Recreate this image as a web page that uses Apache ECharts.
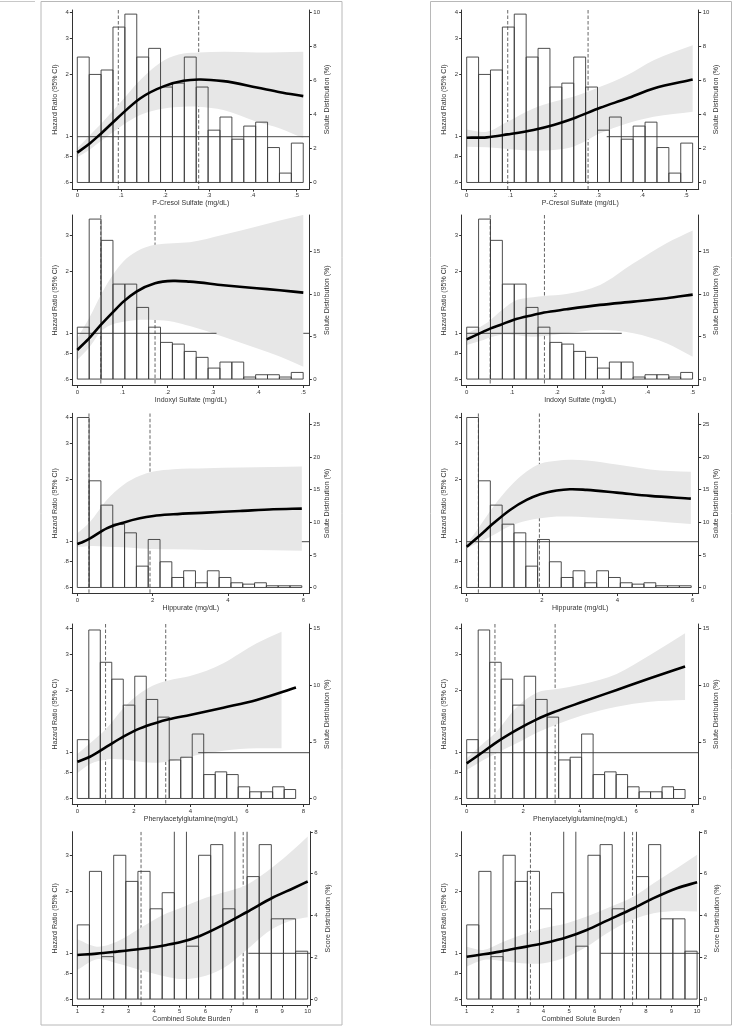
<!DOCTYPE html>
<html><head><meta charset="utf-8">
<script src="https://cdn.jsdelivr.net/npm/echarts@6/dist/echarts.min.js"></script>
<style>html,body{margin:0;padding:0;background:#fff}#c{width:733px;height:1028px}</style>
</head><body><div id="c"></div>
<script>
// ---------------- DATA ----------------
// Histograms (percent per bin), shared by both columns
const pcsBinStart = 0,  pcsBinWidth = 0.0271;
const pcsPct = [7.36,6.34,6.6,9.12,9.88,7.36,7.87,5.6,5.83,7.36,5.6,3.07,3.84,2.54,3.31,3.54,2.05,0.55,2.31];
const isBinStart = 0,   isBinWidth = 0.0263;
const isPct  = [6.1,18.8,16.3,11.16,11.16,8.42,6.1,4.31,4.11,3.25,2.55,1.29,2.0,2.0,0.24,0.51,0.51,0.24,0.78];
const hipBinStart = 0,  hipBinWidth = 0.3137;
const hipPct = [26.07,16.36,12.63,9.71,8.38,3.27,7.36,3.94,1.53,2.56,0.72,2.56,1.53,0.72,0.51,0.72,0.26,0.26,0.26];
const pagBinStart = 0,  pagBinWidth = 0.4068;
const pagPct = [5.19,14.87,12.02,10.53,8.24,10.79,8.74,7.18,3.40,3.64,5.69,2.11,2.35,2.11,1.03,0.59,0.59,1.03,0.79];
const csbBinStart = 1,  csbBinWidth = 0.4737;
const csbPct = [3.55,6.11,2.03,6.88,5.63,6.11,4.32,5.09,8.2,2.53,6.88,7.39,4.32,8.2,5.86,7.39,3.84,3.84,2.29];

// Dashed cut-points
const pcsCuts = [0.0935, 0.2766];
const isCuts  = [0.052, 0.172];
const hipCuts = [0.31, 1.93];
const pagCuts = [1.0, 3.13];
const csbCuts = [3.49, 7.48];

// Tick labels
const hrTicks     = [0.6, 0.8, 1, 2, 3, 4];
const pcsTicks    = [0, 0.1, 0.2, 0.3, 0.4, 0.5];
const isTicks     = [0, 0.1, 0.2, 0.3, 0.4, 0.5];
const hipTicks    = [0, 2, 4, 6];
const pagTicks    = [0, 2, 4, 6, 8];
const csbTicks    = [1, 2, 3, 4, 5, 6, 7, 8, 9, 10];
const pcsPctTicks = [0, 2, 4, 6, 8, 10];
const isPctTicks  = [0, 5, 10, 15];
const hipPctTicks = [0, 5, 10, 15, 20, 25];
const pagPctTicks = [0, 5, 10, 15];
const csbPctTicks = [0, 2, 4, 6, 8];

// Model 1 (left column) spline HR and 95% CI
const m1PcsX  = [0,.029,.055,.093,.143,.198,.242,.277,.333,.409,.462,.515];
const m1PcsHR = [.837,.93,1.04,1.24,1.532,1.758,1.866,1.893,1.859,1.733,1.644,1.573];
const m1PcsLo = [.794,.868,.955,1.097,1.273,1.371,1.397,1.397,1.346,1.182,1.097,.982];
const m1PcsHi = [.878,1.019,1.16,1.423,1.88,2.35,2.53,2.56,2.58,2.56,2.57,2.58];

const m1IsX  = [0,.028,.052,.08,.102,.131,.172,.212,.249,.323,.397,.448,.5];
const m1IsHR = [.83,.956,1.098,1.274,1.424,1.593,1.749,1.795,1.781,1.710,1.653,1.617,1.575];
const m1IsLo = [.742,.862,1.019,1.11,1.139,1.16,1.16,1.139,1.085,.963,.846,.771,.689];
const m1IsHi = [.946,1.205,1.535,1.941,2.228,2.49,2.684,2.735,2.765,3.0,3.29,3.52,3.75];

const m1HipX  = [0,.16,.34,.78,1.22,1.66,2.02,2.55,3.43,4.32,5.2,5.96];
const m1HipHR = [.974,1.0,1.038,1.161,1.237,1.298,1.332,1.358,1.383,1.409,1.436,1.447];
const m1HipLo = [.946,.946,.953,.946,.939,.928,.921,.918,.911,.911,.908,.904];
const m1HipHi = [1.098,1.161,1.251,1.594,1.885,2.085,2.188,2.247,2.273,2.288,2.305,2.314];

const m1PagX  = [0,.45,1.04,1.63,2.22,2.81,3.24,3.99,5.17,6.35,7.74];
const m1PagHR = [.904,.956,1.069,1.196,1.312,1.398,1.451,1.523,1.653,1.801,2.068];
const m1PagBX = [0,.45,1.04,1.63,2.22,2.81,3.40,3.99,4.58,5.17,5.76,6.35,7.23];
const m1PagLo = [.794,.881,.928,.928,.904,.894,.915,.956,.993,1.022,1.042,1.05,1.05];
const m1PagHi = [.985,1.11,1.312,1.641,1.941,2.152,2.27,2.357,2.499,2.713,3.036,3.393,3.86];

const m1CsbX  = [1,1.76,2.54,3.45,4.49,5.01,5.79,6.70,7.61,8.66,9.44,10];
const m1CsbHR = [.982,.996,1.019,1.05,1.098,1.131,1.214,1.373,1.581,1.869,2.068,2.228];
const m1CsbLo = [.83,.935,.894,.83,.77,.751,.765,.846,1.038,1.322,1.451,1.495];
const m1CsbHi = [1.169,1.077,1.139,1.322,1.564,1.654,1.815,1.971,2.145,2.632,3.174,3.68];

// Model 2 (right column)
const m2PcsX  = [0,.046,.093,.152,.198,.243,.304,.365,.426,.515];
const m2PcsHR = [.989,.993,1.026,1.077,1.139,1.226,1.381,1.532,1.713,1.893];
const m2PcsLo = [.895,.888,.872,.856,.862,.895,1.038,1.16,1.249,1.321];
const m2PcsHi = [1.085,1.057,1.182,1.371,1.477,1.561,1.745,1.987,2.35,2.777];

const m2IsX  = [0,.037,.053,.074,.103,.147,.171,.221,.295,.369,.442,.5];
const m2IsHR = [.935,1.019,1.057,1.098,1.161,1.227,1.26,1.307,1.373,1.424,1.479,1.54];
const m2IsLo = [.878,.928,.956,.982,.982,.963,.971,1.0,1.038,1.0,.894,.77];
const m2IsHi = [1.0,1.098,1.161,1.274,1.424,1.495,1.517,1.552,1.716,2.185,2.735,3.15];

const m2HipX  = [0,.31,.71,1.15,1.59,1.95,2.39,2.74,3.19,3.98,4.87,5.95];
const m2HipHR = [.946,1.057,1.228,1.425,1.594,1.698,1.77,1.796,1.783,1.73,1.667,1.618];
const m2HipLo = [.928,.989,1.077,1.191,1.265,1.298,1.323,1.323,1.313,1.293,1.265,1.218];
const m2HipHi = [.974,1.161,1.48,1.85,2.19,2.39,2.47,2.495,2.477,2.365,2.24,2.18];

const m2PagX  = [0,.59,1.0,1.77,2.48,3.13,4.13,5.31,6.49,7.73];
const m2PagHR = [.888,1.011,1.11,1.29,1.451,1.581,1.769,2.015,2.296,2.615];
const m2PagLo = [.824,.921,.985,1.11,1.25,1.362,1.523,1.672,1.768,1.802];
const m2PagHi = [.939,1.11,1.241,1.66,1.955,2.028,2.154,2.41,2.977,3.79];

const m2CsbX  = [1,1.65,2.30,2.96,4.0,4.91,5.69,6.48,7.52,8.30,9.21,10];
const m2CsbHR = [.963,.989,1.019,1.057,1.118,1.196,1.298,1.441,1.653,1.85,2.068,2.21];
const m2CsbLo = [.862,.928,.921,.901,.894,.963,1.077,1.25,1.462,1.564,1.605,1.593];
const m2CsbHi = [1.077,1.038,1.118,1.205,1.322,1.398,1.506,1.653,1.884,2.186,2.586,3.0];

// Visible stretches of the HR = 1 reference line (null = to right edge)
const m1RefSegs = [[[0,null]], [[0,.308],[.5,null]], [[5.96,null]], [[4.28,null]], [[7.68,null]]];
const m2RefSegs = [[[.319,null]], [[0,.343]], [[0,null]], [[0,null]], [[6.22,null]]];

// ---------------- LAYOUT ----------------
const PXLN = 89.6;          // px per ln(HR) unit
const COL_SHIFT = 389.4;
const GRID_L = 72.3;
const ROWS = [
  {top:10,    hr1:136.7, pct:17.04, bottom:189.1, x0:77.3, ppu:438.8, right:309.3},
  {top:215,   hr1:333.3, pct:8.51,  bottom:385.5, x0:77.3, ppu:452,   right:309.3},
  {top:413.3, hr1:541.7, pct:6.52,  bottom:593.5, x0:77.3, ppu:37.67, right:309.3},
  {top:624,   hr1:752.7, pct:11.33, bottom:804.5, x0:77.3, ppu:28.25, right:309.3},
  {top:831.7, hr1:953.3, pct:20.9,  bottom:1005,  x0:77.3, ppu:25.6,  right:310.3}
];

const solutes = [
  {name:'P-Cresol Sulfate (mg/dL)', dist:'Solute Distribution (%)', start:pcsBinStart, w:pcsBinWidth, pct:pcsPct, cuts:pcsCuts, xt:pcsTicks, pt:pcsPctTicks},
  {name:'Indoxyl Sulfate (mg/dL)', dist:'Solute Distribution (%)', start:isBinStart, w:isBinWidth, pct:isPct, cuts:isCuts, xt:isTicks, pt:isPctTicks},
  {name:'Hippurate (mg/dL)', dist:'Solute Distribution (%)', start:hipBinStart, w:hipBinWidth, pct:hipPct, cuts:hipCuts, xt:hipTicks, pt:hipPctTicks},
  {name:'Phenylacetylglutamine(mg/dL)', dist:'Solute Distribution (%)', start:pagBinStart, w:pagBinWidth, pct:pagPct, cuts:pagCuts, xt:pagTicks, pt:pagPctTicks},
  {name:'Combined Solute Burden', dist:'Score Distribution (%)', start:csbBinStart, w:csbBinWidth, pct:csbPct, cuts:csbCuts, xt:csbTicks, pt:csbPctTicks}
];
const models = [
  [
    {x:m1PcsX, hr:m1PcsHR, bx:m1PcsX, lo:m1PcsLo, hi:m1PcsHi},
    {x:m1IsX,  hr:m1IsHR,  bx:m1IsX,  lo:m1IsLo,  hi:m1IsHi},
    {x:m1HipX, hr:m1HipHR, bx:m1HipX, lo:m1HipLo, hi:m1HipHi},
    {x:m1PagX, hr:m1PagHR, bx:m1PagBX, lo:m1PagLo, hi:m1PagHi},
    {x:m1CsbX, hr:m1CsbHR, bx:m1CsbX, lo:m1CsbLo, hi:m1CsbHi}
  ],
  [
    {x:m2PcsX, hr:m2PcsHR, bx:m2PcsX, lo:m2PcsLo, hi:m2PcsHi},
    {x:m2IsX,  hr:m2IsHR,  bx:m2IsX,  lo:m2IsLo,  hi:m2IsHi},
    {x:m2HipX, hr:m2HipHR, bx:m2HipX, lo:m2HipLo, hi:m2HipHi},
    {x:m2PagX, hr:m2PagHR, bx:m2PagX, lo:m2PagLo, hi:m2PagHi},
    {x:m2CsbX, hr:m2CsbHR, bx:m2CsbX, lo:m2CsbLo, hi:m2CsbHi}
  ]
];
const refSegs = [m1RefSegs, m2RefSegs];

// ---------------- HELPERS ----------------
const TXT = '#333', AX = '#333';
const fmtDec = v => { const r = Math.round(v*1000)/1000; return r === 0 ? '0' : String(r).replace(/^0\./, '.'); };
const fmtHR = v => { const h = Math.round(Math.exp(v)*100)/100; return String(h).replace(/^0\./, '.'); };
const P = p => p[0].toFixed(2) + ',' + p[1].toFixed(2);
// cubic Hermite through pixel points (x monotone), 3-point derivative
function herm(p) {
  const n = p.length, h = [], d = [], s = [];
  for (let i = 0; i < n - 1; i++) { h[i] = p[i+1][0] - p[i][0]; d[i] = (p[i+1][1] - p[i][1]) / h[i]; }
  s[0] = d[0]; s[n-1] = d[n-2];
  for (let i = 1; i < n - 1; i++) s[i] = (d[i-1]*h[i] + d[i]*h[i-1]) / (h[i-1] + h[i]);
  let out = '';
  for (let i = 0; i < n - 1; i++) {
    const c1 = [p[i][0] + h[i]/3, p[i][1] + s[i]*h[i]/3];
    const c2 = [p[i+1][0] - h[i]/3, p[i+1][1] - s[i+1]*h[i]/3];
    out += ' C' + P(c1) + ' ' + P(c2) + ' ' + P(p[i+1]);
  }
  return out;
}

const grids = [], xAxes = [], yAxes = [], series = [];
for (let col = 0; col < 2; col++) {
  for (let r = 0; r < 5; r++) {
    const g = grids.length, L = ROWS[r], S = solutes[r], M = models[col][r];
    const dx = col * COL_SHIFT;
    const base = L.hr1 - PXLN * Math.log(0.6);
    const xMin = S.start - (L.x0 - GRID_L) / L.ppu;
    const xMax = S.start + (L.right - L.x0) / L.ppu;
    grids.push({left: GRID_L + dx, top: L.top, width: L.right - GRID_L, height: L.bottom - L.top,
                containLabel: false, outerBoundsMode: 'none'});
    xAxes.push({gridIndex: g, type: 'value', min: xMin, max: xMax,
      name: S.name, nameLocation: 'middle', nameGap: 10.8, nameMoveOverlap: false,
      nameTextStyle: {fontSize: 7, color: TXT},
      axisLine: {onZero: false, lineStyle: {color: AX, width: 1}},
      axisTick: {customValues: S.xt, length: 2.5, lineStyle: {color: AX}},
      axisLabel: {customValues: S.xt, fontSize: 6, color: TXT, margin: 3.5, formatter: fmtDec},
      splitLine: {show: false}});
    const lnT = hrTicks.map(Math.log);
    yAxes.push({gridIndex: g, type: 'value', position: 'left',
      min: -(L.bottom - L.hr1) / PXLN, max: (L.hr1 - L.top) / PXLN,
      name: 'Hazard Ratio (95% CI)', nameLocation: 'middle', nameRotate: 90, nameGap: 13.8, nameMoveOverlap: false,
      nameTextStyle: {fontSize: 7, color: TXT},
      axisLine: {show: true, onZero: false, lineStyle: {color: AX, width: 1}},
      axisTick: {show: true, customValues: lnT, length: 2.5, lineStyle: {color: AX}},
      axisLabel: {customValues: lnT, fontSize: 6, color: TXT, margin: 3.5, formatter: fmtHR},
      splitLine: {show: false}});
    yAxes.push({gridIndex: g, type: 'value', position: 'right',
      min: -(L.bottom - base) / L.pct, max: (base - L.top) / L.pct,
      name: S.dist, nameLocation: 'middle', nameRotate: 90, nameGap: 13.9, nameMoveOverlap: false,
      nameTextStyle: {fontSize: 7, color: TXT},
      axisLine: {show: true, onZero: false, lineStyle: {color: AX, width: 1}},
      axisTick: {show: true, customValues: S.pt, length: 2.5, lineStyle: {color: AX}},
      axisLabel: {customValues: S.pt, fontSize: 6, color: TXT, margin: 4, formatter: v => String(v)},
      splitLine: {show: false}});

    const yl = 2*g, yr = 2*g + 1;
    // dashed cut lines
    series.push({type: 'custom', xAxisIndex: g, yAxisIndex: yl, z: 1, silent: true, clip: true,
      data: S.cuts.map(c => [c, 0]), encode: {x: 0, y: 1},
      renderItem: (params, api) => {
        const x = api.coord([api.value(0), 0])[0];
        const cs = params.coordSys;
        return {type: 'line', shape: {x1: x, y1: cs.y, x2: x, y2: cs.y + cs.height},
                style: {stroke: '#555', lineWidth: 0.9, lineDash: [3.5, 2]}};
      }});
    // CI band
    series.push({type: 'custom', xAxisIndex: g, yAxisIndex: yl, z: 2, silent: true, clip: true,
      data: [[M.bx[0], 0]], encode: {x: 0, y: 1},
      renderItem: (params, api) => {
        const up = M.bx.map((x, i) => api.coord([x, Math.log(M.hi[i])]));
        const dn = M.bx.map((x, i) => api.coord([x, Math.log(M.lo[i])])).reverse();
        const d = 'M' + P(up[0]) + herm(up) + ' L' + P(dn[0]) + herm(dn) + ' Z';
        return {type: 'path', shape: {pathData: d}, style: {fill: '#e7e7e7', stroke: null}};
      }});
    // histogram
    series.push({type: 'custom', xAxisIndex: g, yAxisIndex: yr, z: 3, silent: true, clip: true,
      data: S.pct.map((v, i) => [S.start + i*S.w, S.start + (i+1)*S.w, v]),
      encode: {x: [0, 1], y: 2},
      renderItem: (params, api) => {
        const p0 = api.coord([api.value(0), 0]);
        const p1 = api.coord([api.value(1), api.value(2)]);
        return {type: 'rect', shape: {x: p0[0], y: p1[1], width: p1[0] - p0[0], height: p0[1] - p1[1]},
                style: {fill: null, stroke: '#3a3a3a', lineWidth: 0.9}};
      }});
    // HR = 1 reference line
    series.push({type: 'custom', xAxisIndex: g, yAxisIndex: yl, z: 4, silent: true, clip: true,
      data: refSegs[col][r].map(s => [s[0], s[1] == null ? xMax : s[1], 0]),
      encode: {x: [0, 1], y: 2},
      renderItem: (params, api) => {
        const a = api.coord([api.value(0), 0]), b = api.coord([api.value(1), 0]);
        return {type: 'line', shape: {x1: a[0], y1: a[1], x2: b[0], y2: b[1]},
                style: {stroke: '#333', lineWidth: 0.9}};
      }});
    // HR curve
    series.push({type: 'custom', xAxisIndex: g, yAxisIndex: yl, z: 5, silent: true, clip: true,
      data: [[M.x[0], 0]], encode: {x: 0, y: 1},
      renderItem: (params, api) => {
        const pts = M.x.map((x, i) => api.coord([x, Math.log(M.hr[i])]));
        return {type: 'path', shape: {pathData: 'M' + P(pts[0]) + herm(pts)},
                style: {fill: null, stroke: '#000', lineWidth: 2.6, lineJoin: 'round'}};
      }});
  }
}

const chart = echarts.init(document.getElementById('c'), null, {renderer: 'canvas'});
chart.setOption({
  animation: false,
  backgroundColor: '#fff',
  textStyle: {fontFamily: 'Liberation Sans, Arial, sans-serif'},
  grid: grids, xAxis: xAxes, yAxis: yAxes, series: series,
  graphic: [
    {type: 'rect', silent: true, shape: {x: 41, y: 1.5, width: 301, height: 1023.5},
     style: {fill: null, stroke: '#b8b8b8', lineWidth: 1}},
    {type: 'rect', silent: true, shape: {x: 430.5, y: 1.5, width: 301, height: 1023.5},
     style: {fill: null, stroke: '#b8b8b8', lineWidth: 1}},
    {type: 'line', silent: true, shape: {x1: 0, y1: 1.5, x2: 35, y2: 1.5},
     style: {stroke: '#c8c8c8', lineWidth: 1}}
  ]
});
</script></body></html>
